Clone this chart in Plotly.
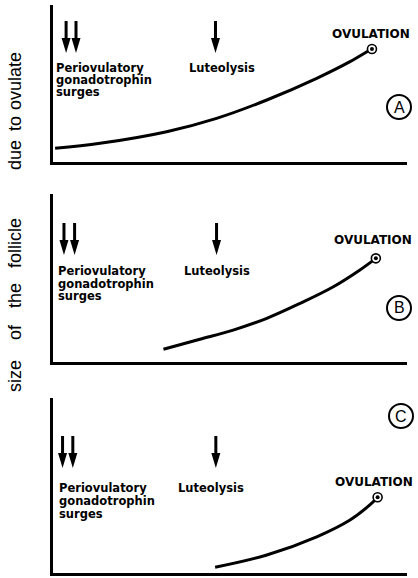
import plotly.graph_objects as go

W, H = 418, 578

# ---------------- data ----------------
days_A = [0.6, 13.3, 32.1, 46.2, 60.4, 74.5, 83.9, 89.5, 90.1]
size_A = [8.7, 11.9, 19.3, 27.8, 39.5, 53.3, 63.9, 71.3, 72.0]

days_B = [31.2, 41.5, 50.9, 60.4, 69.8, 79.2, 86.7, 91.2]
size_B = [7.6, 13.5, 19.0, 26.0, 34.9, 44.8, 54.8, 61.7]

days_C = [45.8, 60.4, 74.5, 83.9, 89.5, 91.7]
size_C = [3.3, 10.3, 20.7, 30.3, 38.9, 43.3]

surge_days = [[3.7, 6.5], [3.1, 6.1], [2.7, 5.6]]
luteolysis_day = [45.9, 46.2, 46.0]
panel_letters = ["A", "B", "C"]
ylabel_words = ["ovulate", "to", "due", "follicle", "the", "of", "size"]

# ---------------- layout helpers ----------------
def fx(p):
    return p / W

def fy(p):
    return 1 - p / H

x_dom = [fx(53), fx(407)]
y_doms = [[fy(162), fy(5)], [fy(362), fy(194)], [fy(573), fy(398)]]
arrow_tip = [69.4, 63.7, 60.0]
ARROW_PATH = "M0,0 L-4.5,15 L-1.5,15 L-1.5,32 L1.5,32 L1.5,15 L4.5,15 Z"

text_pos = [
    dict(peri=(55, 68.5), gona=(55, 80.5), surg=(55, 92.5), lut=(188, 68.5), ovu=(371, 34), circ=(399, 107)),
    dict(peri=(57, 271), gona=(57, 283.5), surg=(57, 296), lut=(183, 271), ovu=(373, 240), circ=(399, 308)),
    dict(peri=(58, 487.5), gona=(58, 501), surg=(58, 514), lut=(177, 487.5), ovu=(374, 482), circ=(401, 416)),
]
ylabel_pos = [81, 124, 155, 243, 296, 332, 376]

series = [(days_A, size_A), (days_B, size_B), (days_C, size_C)]

fig = go.Figure()
shapes = []
annotations = []
BOLD = dict(family="DejaVu Sans", size=11.5, color="black", weight="bold")

for i, (d, s) in enumerate(series):
    n = "" if i == 0 else str(i + 1)
    xa, ya = "x" + n, "y" + n
    fig.add_trace(go.Scatter(x=d, y=s, mode="lines", xaxis=xa, yaxis=ya,
                             line=dict(color="black", width=3, shape="spline", smoothing=1.0),
                             cliponaxis=False, showlegend=False, hoverinfo="skip"))
    fig.add_trace(go.Scatter(x=[d[-1]], y=[s[-1]], mode="markers", xaxis=xa, yaxis=ya,
                             marker=dict(symbol="circle", size=9, color="white",
                                         line=dict(color="black", width=1.6)),
                             cliponaxis=False, showlegend=False, hoverinfo="skip"))
    fig.add_trace(go.Scatter(x=[d[-1]], y=[s[-1]], mode="markers", xaxis=xa, yaxis=ya,
                             marker=dict(symbol="circle", size=4, color="black"),
                             cliponaxis=False, showlegend=False, hoverinfo="skip"))
    fig.layout["xaxis" + n] = dict(domain=x_dom, range=[0, 100], anchor=ya, showline=True,
                                   linewidth=3, linecolor="black", showgrid=False, zeroline=False,
                                   showticklabels=False, ticks="", fixedrange=True)
    fig.layout["yaxis" + n] = dict(domain=y_doms[i], range=[0, 100], anchor=xa, showline=True,
                                   linewidth=3, linecolor="black", showgrid=False, zeroline=False,
                                   showticklabels=False, ticks="", fixedrange=True)
    for day in surge_days[i] + [luteolysis_day[i]]:
        shapes.append(dict(type="path", xref=xa, yref=ya, xsizemode="pixel", ysizemode="pixel",
                           xanchor=day, yanchor=arrow_tip[i], path=ARROW_PATH,
                           fillcolor="black", line=dict(width=0)))
    tp = text_pos[i]
    for key, txt in [("peri", "Periovulatory"), ("gona", "gonadotrophin"), ("surg", "surges"),
                     ("lut", "Luteolysis")]:
        px_, py_ = tp[key]
        annotations.append(dict(text=txt, x=fx(px_), y=fy(py_), xref="paper", yref="paper",
                                xanchor="left", yanchor="middle", showarrow=False,
                                borderpad=0, font=BOLD))
    px_, py_ = tp["ovu"]
    annotations.append(dict(text="OVULATION", x=fx(px_), y=fy(py_), xref="paper", yref="paper",
                            xanchor="center", yanchor="middle", showarrow=False, borderpad=0,
                            font=dict(family="DejaVu Sans", size=12, color="black", weight="bold")))
    cx, cy = tp["circ"]
    shapes.append(dict(type="circle", xref="paper", yref="paper",
                       x0=fx(cx - 12), x1=fx(cx + 12), y0=fy(cy + 12), y1=fy(cy - 12),
                       line=dict(color="black", width=2)))
    annotations.append(dict(text=panel_letters[i], x=fx(cx), y=fy(cy), xref="paper", yref="paper",
                            xanchor="center", yanchor="middle", showarrow=False, borderpad=0,
                            font=dict(family="Liberation Sans", size=16, color="black")))

for word, yp in zip(ylabel_words, ylabel_pos):
    annotations.append(dict(text=word, x=fx(15), y=fy(yp), xref="paper", yref="paper",
                            xanchor="center", yanchor="middle", showarrow=False, textangle=-90,
                            borderpad=0,
                            font=dict(family="Liberation Sans", size=18, color="black")))

fig.update_layout(width=W, height=H, margin=dict(l=0, r=0, t=0, b=0),
                  paper_bgcolor="white", plot_bgcolor="white",
                  shapes=shapes, annotations=annotations, showlegend=False)

fig.write_html("out.html", config={"displayModeBar": False},
               post_script="document.body.style.margin='0';document.body.style.overflow='hidden';")
